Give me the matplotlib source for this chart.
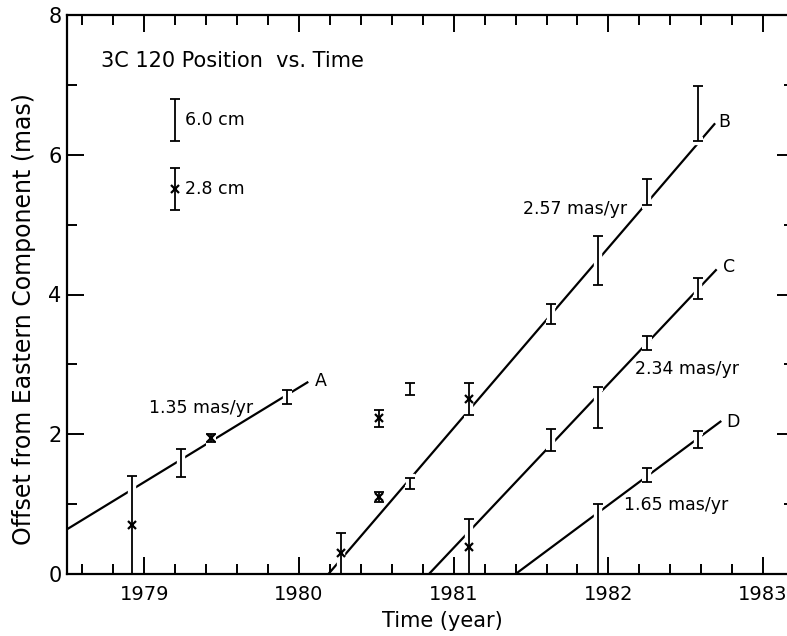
#!/usr/bin/env python3

import matplotlib
matplotlib.use("Agg")
import matplotlib.pyplot as plt
from matplotlib.ticker import MultipleLocator

# points measured at 2.8 cm (drawn with an x)
x28 = [1978.92, 1979.43, 1980.27, 1980.52, 1980.52, 1981.10, 1981.10]
y28 = [0.70, 1.95, 0.30, 1.10, 2.23, 2.51, 0.39]
lo28 = [0.70, 0.06, 0.30, 0.07, 0.12, 0.24, 0.39]
hi28 = [0.70, 0.06, 0.29, 0.08, 0.11, 0.23, 0.39]

# points measured at 6.0 cm (bar only)
x60 = [1979.24, 1979.92, 1980.72, 1980.72,
       1981.63, 1981.93, 1982.25, 1982.58,
       1981.63, 1981.93, 1982.25, 1982.58,
       1981.93, 1982.25, 1982.58]
y60 = [1.59, 2.53, 2.65, 1.29,
       3.72, 4.49, 5.47, 6.59,
       1.92, 2.38, 3.31, 4.09,
       0.50, 1.42, 1.92]
err60 = [0.20, 0.10, 0.09, 0.08,
         0.14, 0.35, 0.19, 0.39,
         0.16, 0.29, 0.10, 0.15,
         0.50, 0.10, 0.12]

# fitted motions of the components
comp_names = ["A", "B", "C", "D"]
comp_rates = ["1.35 mas/yr", "2.57 mas/yr", "2.34 mas/yr", "1.65 mas/yr"]
line_x0 = [1978.50, 1980.19, 1980.84, 1981.40]
line_x1 = [1980.06, 1982.69, 1982.70, 1982.73]
line_y0 = [0.64, 0.00, 0.00, 0.00]
line_y1 = [2.75, 6.45, 4.36, 2.19]

name_x = [1980.10, 1982.71, 1982.74, 1982.76]
name_y = [2.76, 6.47, 4.40, 2.18]
rate_x = [1979.03, 1981.45, 1982.17, 1982.10]
rate_y = [2.37, 5.23, 2.94, 0.99]

# key in the upper left
key_x = [1979.20, 1979.20]
key_y = [6.50, 5.51]
key_err = [0.30, 0.30]
key_text = ["6.0 cm", "2.8 cm"]


def bars(ax, x, y, yerr):
    # white copy underneath cuts the fitted lines around each bar
    ax.errorbar(x, y, yerr=yerr, fmt="none", ecolor="white",
                elinewidth=6, capsize=3.5, capthick=6, zorder=2.5)
    ax.errorbar(x, y, yerr=yerr, fmt="none", ecolor="black",
                elinewidth=1.3, capsize=3.5, capthick=1.3, zorder=3)


if __name__ == "__main__":
    plt.rcParams["font.family"] = "DejaVu Sans"
    fig = plt.figure(figsize=(7.87, 6.36), dpi=100)
    ax = fig.add_axes([67 / 787, 1 - 574 / 636, 727 / 787, 559 / 636])

    for i in range(len(comp_names)):
        ax.plot([line_x0[i], line_x1[i]], [line_y0[i], line_y1[i]],
                color="black", lw=1.6, zorder=2, solid_capstyle="butt")
        ax.text(name_x[i], name_y[i], comp_names[i], ha="left", va="center",
                fontsize=12.5)
        ax.text(rate_x[i], rate_y[i], comp_rates[i], ha="left", va="center",
                fontsize=12.5)

    bars(ax, x60, y60, err60)
    bars(ax, x28, y28, [lo28, hi28])
    ax.plot(x28, y28, "x", color="black", ms=6, mew=1.6, zorder=4)

    bars(ax, key_x, key_y, key_err)
    ax.plot(key_x[1], key_y[1], "x", color="black", ms=6, mew=1.6, zorder=4)
    for i in range(2):
        ax.text(key_x[i] + 0.06, key_y[i], key_text[i], ha="left",
                va="center", fontsize=12.5)

    ax.text(1978.72, 7.34, "3C 120 Position  vs. Time", ha="left",
            va="center", fontsize=15)

    ax.set_xlim(1978.5, 1983.2)
    ax.set_ylim(0, 8)
    ax.xaxis.set_major_locator(MultipleLocator(1))
    ax.xaxis.set_minor_locator(MultipleLocator(0.2))
    ax.yaxis.set_major_locator(MultipleLocator(2))
    ax.yaxis.set_minor_locator(MultipleLocator(1))
    ax.tick_params(which="both", direction="in", top=True, right=True,
                   width=1.4, labelsize=14)
    ax.tick_params(axis="y", labelsize=15)
    ax.tick_params(which="major", length=12)
    ax.tick_params(which="minor", length=7)
    ax.tick_params(axis="x", pad=8)
    ax.tick_params(axis="y", pad=4)
    for s in ax.spines.values():
        s.set_linewidth(1.6)
    ax.spines["right"].set_visible(False)

    fig.text(442 / 787, 1 - 621 / 636, "Time (year)", ha="center",
             va="center", fontsize=15)
    fig.text(24 / 787, 1 - 319 / 636, "Offset from Eastern Component (mas)",
             rotation=90, ha="center", va="center", fontsize=17)

    fig.savefig("out.png", dpi=100)
